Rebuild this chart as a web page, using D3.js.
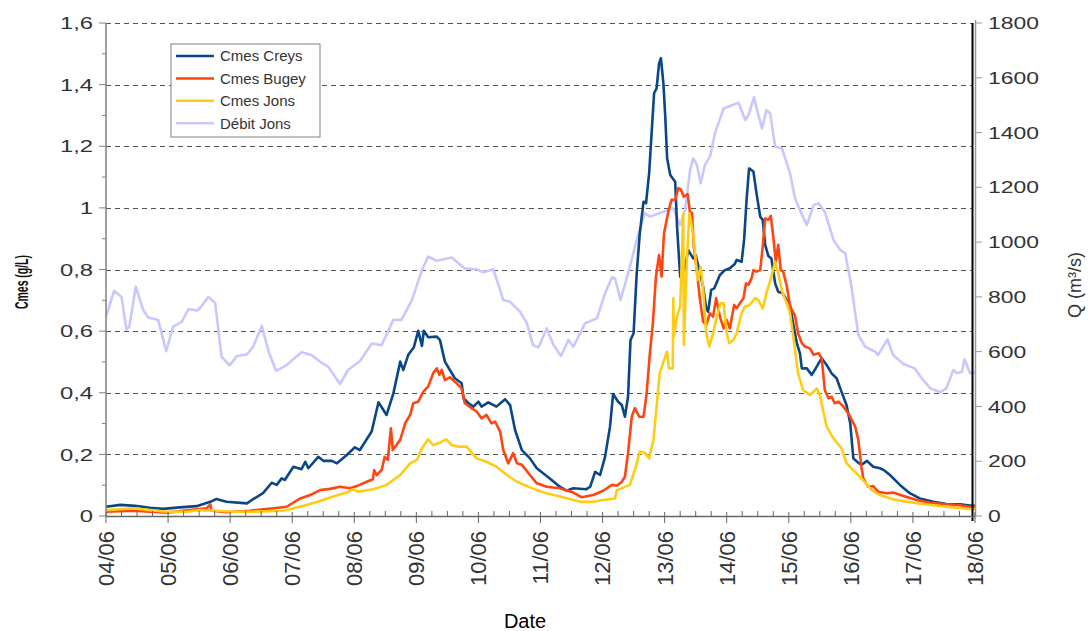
<!DOCTYPE html>
<html>
<head>
<meta charset="utf-8">
<script src="https://cdn.jsdelivr.net/npm/d3@7"></script>
<style>
  body { margin: 0; background: #fff; }
  svg { display: block; font-family: Arial, 'Liberation Sans', sans-serif; }
</style>
</head>
<body>
<svg id="chart" width="1088" height="631"></svg>
<script>
// time is in days since 04/06 00:00
const startDate = new Date(2008, 5, 4)
const endDate = new Date(2008, 5, 18)

const leftTicks = [0, 0.2, 0.4, 0.6, 0.8, 1, 1.2, 1.4, 1.6]
const rightTicks = [0, 200, 400, 600, 800, 1000, 1200, 1400, 1600, 1800]
const seriesNames = ['Cmes Creys', 'Cmes Bugey', 'Cmes Jons', 'Débit Jons']

// Q (m3/s)
const debitJons = [[0,728],[0.13,822],[0.25,800],[0.33,681],[0.375,691],[0.48,837],[0.6,752],[0.68,725],[0.84,716],[0.97,602],[1.08,691],[1.22,709],[1.33,756],[1.46,750],[1.51,758],[1.65,800],[1.76,777],[1.86,582],[1.99,550],[2.11,584],[2.27,590],[2.37,618],[2.51,694],[2.62,600],[2.74,530],[2.91,551],[3.15,598],[3.31,588],[3.45,563],[3.58,545],[3.77,482],[3.9,533],[4.09,565],[4.28,630],[4.44,624],[4.63,716],[4.76,716],[4.93,789],[5.09,898],[5.19,947],[5.33,932],[5.57,944],[5.78,904],[5.97,901],[6.08,890],[6.24,901],[6.4,789],[6.51,782],[6.67,746],[6.78,704],[6.88,624],[6.97,616],[7.1,685],[7.21,624],[7.33,584],[7.45,643],[7.53,618],[7.72,704],[7.91,722],[8.04,813],[8.15,871],[8.2,868],[8.29,789],[8.44,910],[8.55,1008],[8.68,1105],[8.76,1093],[8.98,1111],[9.14,1123],[9.25,1062],[9.33,1117],[9.41,1263],[9.46,1306],[9.52,1282],[9.58,1215],[9.65,1282],[9.73,1312],[9.81,1397],[9.95,1488],[10.05,1497],[10.19,1509],[10.3,1446],[10.35,1464],[10.44,1529],[10.51,1464],[10.57,1415],[10.64,1482],[10.7,1470],[10.78,1348],[10.89,1342],[11.02,1251],[11.1,1160],[11.18,1117],[11.29,1062],[11.4,1135],[11.48,1142],[11.58,1111],[11.72,1008],[11.83,971],[11.91,959],[12.01,837],[12.12,661],[12.23,618],[12.39,600],[12.44,588],[12.59,645],[12.68,588],[12.85,555],[13.03,539],[13.14,503],[13.28,466],[13.44,452],[13.54,466],[13.65,533],[13.71,521],[13.79,527],[13.83,572],[13.92,521],[14,525]]

// Cmes (g/L)
const cmesCreys = [[0,0.030],[0.23,0.036],[0.47,0.033],[0.71,0.027],[0.92,0.023],[1.19,0.028],[1.46,0.032],[1.68,0.046],[1.78,0.055],[1.94,0.046],[2.27,0.041],[2.35,0.052],[2.53,0.074],[2.67,0.108],[2.75,0.101],[2.83,0.122],[2.88,0.117],[3.02,0.160],[3.15,0.152],[3.21,0.176],[3.26,0.155],[3.42,0.192],[3.5,0.179],[3.64,0.179],[3.72,0.171],[3.88,0.198],[4.01,0.223],[4.09,0.214],[4.28,0.274],[4.39,0.369],[4.52,0.328],[4.63,0.398],[4.74,0.501],[4.79,0.474],[4.87,0.523],[4.96,0.548],[5.03,0.601],[5.09,0.552],[5.12,0.601],[5.19,0.580],[5.33,0.582],[5.38,0.571],[5.46,0.501],[5.62,0.447],[5.73,0.431],[5.76,0.382],[5.84,0.366],[5.92,0.355],[6.0,0.371],[6.05,0.355],[6.16,0.369],[6.29,0.355],[6.43,0.379],[6.51,0.360],[6.59,0.279],[6.70,0.214],[6.83,0.187],[6.94,0.155],[7.15,0.122],[7.31,0.095],[7.42,0.082],[7.53,0.090],[7.74,0.087],[7.8,0.095],[7.88,0.143],[7.96,0.133],[8.04,0.192],[8.12,0.290],[8.17,0.396],[8.25,0.371],[8.31,0.360],[8.36,0.322],[8.41,0.387],[8.45,0.571],[8.5,0.593],[8.55,0.788],[8.6,0.918],[8.66,1.020],[8.7,1.015],[8.75,1.112],[8.83,1.372],[8.87,1.388],[8.91,1.469],[8.94,1.486],[8.98,1.404],[9.01,1.296],[9.04,1.161],[9.09,1.107],[9.17,1.085],[9.2,0.939],[9.25,0.777],[9.33,0.809],[9.38,0.863],[9.46,0.836],[9.5,0.847],[9.57,0.788],[9.62,0.744],[9.67,0.674],[9.7,0.663],[9.75,0.734],[9.8,0.739],[9.89,0.782],[9.97,0.798],[10.05,0.804],[10.13,0.818],[10.16,0.831],[10.24,0.825],[10.28,0.896],[10.32,1.026],[10.36,1.128],[10.43,1.118],[10.48,1.047],[10.54,0.971],[10.58,0.961],[10.62,0.880],[10.67,0.844],[10.72,0.836],[10.78,0.755],[10.83,0.728],[10.9,0.723],[10.97,0.700],[11.01,0.693],[11.07,0.625],[11.13,0.561],[11.18,0.528],[11.21,0.479],[11.29,0.479],[11.37,0.458],[11.45,0.485],[11.53,0.512],[11.61,0.490],[11.69,0.463],[11.77,0.447],[11.85,0.403],[11.93,0.360],[11.99,0.301],[12.04,0.187],[12.12,0.173],[12.17,0.166],[12.26,0.179],[12.36,0.160],[12.47,0.155],[12.53,0.149],[12.63,0.133],[12.79,0.101],[12.95,0.074],[13.11,0.057],[13.33,0.046],[13.54,0.039],[13.76,0.038],[13.95,0.033],[14,0.033]]

const cmesBugey = [[0,0.014],[0.44,0.017],[0.98,0.011],[1.35,0.019],[1.62,0.025],[1.68,0.038],[1.70,0.017],[1.94,0.012],[2.32,0.017],[2.70,0.025],[2.91,0.030],[3.13,0.057],[3.29,0.068],[3.45,0.084],[3.61,0.088],[3.77,0.095],[3.93,0.090],[4.04,0.097],[4.2,0.111],[4.3,0.119],[4.32,0.149],[4.36,0.133],[4.44,0.149],[4.49,0.192],[4.54,0.182],[4.59,0.285],[4.62,0.214],[4.74,0.247],[4.82,0.301],[4.90,0.328],[4.95,0.366],[5.03,0.371],[5.11,0.403],[5.19,0.420],[5.27,0.463],[5.33,0.479],[5.37,0.458],[5.41,0.474],[5.46,0.441],[5.54,0.450],[5.62,0.436],[5.73,0.414],[5.78,0.366],[5.89,0.350],[5.97,0.339],[6.05,0.317],[6.13,0.328],[6.21,0.301],[6.27,0.306],[6.35,0.274],[6.40,0.214],[6.48,0.171],[6.56,0.204],[6.62,0.171],[6.70,0.166],[6.83,0.133],[6.94,0.106],[7.10,0.095],[7.31,0.090],[7.53,0.076],[7.66,0.061],[7.85,0.068],[8.01,0.082],[8.15,0.101],[8.23,0.098],[8.31,0.111],[8.36,0.128],[8.41,0.204],[8.47,0.322],[8.52,0.350],[8.59,0.322],[8.66,0.322],[8.71,0.398],[8.76,0.523],[8.81,0.625],[8.86,0.777],[8.91,0.847],[8.95,0.777],[8.99,0.918],[9.06,0.988],[9.11,1.026],[9.17,1.026],[9.22,1.064],[9.26,1.060],[9.31,1.036],[9.37,1.045],[9.41,0.982],[9.44,0.984],[9.47,0.874],[9.53,0.777],[9.57,0.701],[9.62,0.631],[9.67,0.620],[9.73,0.658],[9.78,0.647],[9.83,0.707],[9.89,0.647],[9.95,0.609],[10.0,0.636],[10.05,0.609],[10.12,0.685],[10.16,0.674],[10.21,0.690],[10.27,0.707],[10.31,0.755],[10.35,0.750],[10.40,0.771],[10.43,0.798],[10.48,0.793],[10.54,0.798],[10.58,0.874],[10.62,0.966],[10.67,0.961],[10.71,0.974],[10.75,0.907],[10.79,0.825],[10.83,0.880],[10.87,0.798],[10.91,0.793],[10.97,0.744],[11.02,0.680],[11.10,0.650],[11.15,0.593],[11.21,0.561],[11.26,0.550],[11.34,0.544],[11.40,0.523],[11.48,0.528],[11.53,0.512],[11.58,0.409],[11.64,0.382],[11.69,0.387],[11.74,0.366],[11.80,0.371],[11.88,0.355],[11.96,0.333],[12.07,0.290],[12.12,0.247],[12.17,0.160],[12.20,0.122],[12.28,0.095],[12.36,0.097],[12.44,0.079],[12.58,0.074],[12.68,0.076],[12.85,0.065],[13.06,0.052],[13.28,0.043],[13.54,0.038],[13.76,0.035],[13.95,0.028],[14,0.028]]

const cmesJons = [[0,0.019],[0.44,0.025],[0.71,0.019],[0.98,0.014],[1.30,0.014],[1.51,0.019],[1.78,0.017],[2.05,0.014],[2.37,0.014],[2.86,0.017],[3.02,0.025],[3.23,0.036],[3.45,0.049],[3.66,0.063],[3.88,0.076],[3.98,0.087],[4.06,0.079],[4.31,0.087],[4.52,0.101],[4.74,0.133],[4.90,0.171],[5.01,0.182],[5.09,0.220],[5.19,0.249],[5.27,0.230],[5.38,0.238],[5.48,0.249],[5.57,0.230],[5.68,0.225],[5.81,0.225],[5.97,0.187],[6.13,0.176],[6.29,0.160],[6.46,0.133],[6.62,0.111],[6.83,0.093],[7.05,0.076],[7.31,0.063],[7.64,0.046],[7.85,0.046],[8.01,0.052],[8.2,0.057],[8.23,0.084],[8.44,0.101],[8.52,0.149],[8.60,0.209],[8.68,0.205],[8.75,0.187],[8.82,0.247],[8.87,0.355],[8.92,0.463],[8.99,0.506],[9.04,0.533],[9.07,0.479],[9.13,0.479],[9.14,0.707],[9.15,0.582],[9.20,0.647],[9.25,0.680],[9.30,0.982],[9.31,0.555],[9.36,0.842],[9.40,0.982],[9.44,0.939],[9.47,0.896],[9.53,0.766],[9.58,0.809],[9.62,0.739],[9.67,0.593],[9.72,0.550],[9.78,0.593],[9.84,0.647],[9.90,0.690],[9.95,0.690],[10.0,0.593],[10.04,0.561],[10.11,0.571],[10.16,0.593],[10.24,0.658],[10.29,0.680],[10.37,0.685],[10.46,0.707],[10.51,0.701],[10.58,0.674],[10.64,0.723],[10.72,0.777],[10.78,0.825],[10.83,0.788],[10.90,0.723],[10.97,0.690],[11.02,0.658],[11.08,0.571],[11.15,0.463],[11.23,0.409],[11.34,0.393],[11.40,0.403],[11.45,0.414],[11.50,0.393],[11.61,0.290],[11.72,0.252],[11.85,0.220],[11.93,0.171],[12.04,0.149],[12.17,0.122],[12.34,0.084],[12.47,0.068],[12.68,0.054],[13.01,0.043],[13.33,0.035],[13.65,0.028],[13.95,0.022],[14,0.022]]

const colors = ['#0b4787', '#ff4512', '#ffcc14', '#c8c8ff']

const svg = d3.select('#chart')
const L = 106, R = 975, T = 23, B = 516

const toDate = d => new Date(+startDate + d * 864e5)
const x = d3.scaleTime().domain([startDate, endDate]).range([L, R])
const y = d3.scaleLinear().domain([0, 1.6]).range([B, T])
const yQ = d3.scaleLinear().domain([0, 1800]).range([B, T])
const fr = d3.formatLocale({ decimal: ',', thousands: ' ', grouping: [3], currency: ['', ''] })
const fmtC = fr.format('~g')

// grid
svg.append('g').selectAll('line').data(leftTicks.filter(v => v > 0)).join('line')
  .attr('x1', L).attr('x2', R - 2)
  .attr('y1', d => Math.round(y(d)) + 0.5).attr('y2', d => Math.round(y(d)) + 0.5)
  .attr('stroke', '#555').attr('stroke-width', 1).attr('stroke-dasharray', '5,4')

// lines
const lineC = d3.line().x(d => x(toDate(d[0]))).y(d => y(d[1]))
const lineQ = d3.line().x(d => x(toDate(d[0]))).y(d => yQ(d[1]))
const gLines = svg.append('g')
gLines.append('path').datum(debitJons).attr('d', lineQ).attr('fill', 'none').attr('stroke', colors[3]).attr('stroke-width', 2.6).attr('stroke-linejoin', 'round')
;[cmesCreys, cmesBugey, cmesJons].forEach((s, i) => {
  gLines.append('path').datum(s).attr('d', lineC).attr('fill', 'none')
    .attr('stroke', colors[i]).attr('stroke-width', 2.6).attr('stroke-linejoin', 'round')
})

// left axis
const gL = svg.append('g')
gL.append('line').attr('x1', L).attr('x2', L).attr('y1', T).attr('y2', B).attr('stroke', '#808080').attr('stroke-width', 1.5)
gL.selectAll('line.mj').data(leftTicks).join('line').attr('class', 'mj')
  .attr('x1', L - 7).attr('x2', L).attr('y1', d => y(d)).attr('y2', d => y(d)).attr('stroke', '#808080')
gL.selectAll('line.mn').data(d3.range(1, 16, 2).map(v => v / 10)).join('line').attr('class', 'mn')
  .attr('x1', L - 4).attr('x2', L).attr('y1', d => y(d)).attr('y2', d => y(d)).attr('stroke', '#808080')
gL.selectAll('text').data(leftTicks).join('text')
  .attr('transform', d => `translate(93,${y(d)}) scale(1.4,1)`)
  .attr('dy', '0.36em').attr('text-anchor', 'end').attr('font-size', 17).attr('fill', '#333')
  .text(d => fmtC(d))

// right axis
const gR = svg.append('g')
gR.append('line').attr('x1', R - 2.5).attr('x2', R - 2.5).attr('y1', T).attr('y2', B + 5).attr('stroke', '#000').attr('stroke-width', 2)
gR.append('line').attr('x1', R + 0.5).attr('x2', R + 0.5).attr('y1', T - 3).attr('y2', B).attr('stroke', '#999').attr('stroke-width', 1.5)
gR.selectAll('line.mj').data(rightTicks).join('line').attr('class', 'mj')
  .attr('x1', R).attr('x2', R + 7).attr('y1', d => yQ(d)).attr('y2', d => yQ(d)).attr('stroke', '#999')
gR.selectAll('text').data(rightTicks).join('text')
  .attr('transform', d => `translate(988,${yQ(d)}) scale(1.35,1)`)
  .attr('dy', '0.36em').attr('font-size', 17).attr('fill', '#333')
  .text(d => d)

// bottom axis
const days = d3.timeDay.range(startDate, d3.timeDay.offset(endDate, 1))
const quarters = d3.timeHour.every(6).range(startDate, endDate).filter(d => d.getHours() !== 0)
const gB = svg.append('g')
gB.append('line').attr('x1', L).attr('x2', R).attr('y1', B + 0.5).attr('y2', B + 0.5).attr('stroke', '#666').attr('stroke-width', 1.5)
gB.selectAll('line.mj').data(days).join('line').attr('class', 'mj')
  .attr('x1', d => x(d)).attr('x2', d => x(d)).attr('y1', B - 4).attr('y2', B + 7).attr('stroke', '#666')
gB.selectAll('line.mn').data(quarters).join('line').attr('class', 'mn')
  .attr('x1', d => x(d)).attr('x2', d => x(d)).attr('y1', B - 5).attr('y2', B).attr('stroke', '#666')
gB.selectAll('text').data(days).join('text')
  .attr('transform', d => `translate(${x(d)},531) rotate(-90)`)
  .attr('dy', '0.36em').attr('text-anchor', 'end').attr('font-size', 22).attr('fill', '#333')
  .text(d3.timeFormat('%d/%m'))

// axis titles
svg.append('text').attr('x', 525).attr('y', 628).attr('text-anchor', 'middle')
  .attr('font-size', 20).attr('fill', '#000').text('Date')
svg.append('text').attr('transform', 'translate(22,282) rotate(-90) scale(0.58,1)')
  .attr('dy', '0.35em').attr('text-anchor', 'middle').attr('font-size', 18).attr('font-weight', 'bold')
  .attr('fill', '#111').text('Cmes (g/L)')
svg.append('text').attr('transform', 'translate(1075,285) rotate(-90)')
  .attr('dy', '0.35em').attr('text-anchor', 'middle').attr('font-size', 18).attr('fill', '#333')
  .text('Q (m³/s)')

// legend
const lg = svg.append('g').attr('transform', 'translate(171,44)')
lg.append('rect').attr('width', 149).attr('height', 93).attr('fill', '#fff').attr('stroke', '#808080')
seriesNames.forEach((n, i) => {
  const yy = 12 + i * 22.4
  lg.append('line').attr('x1', 5).attr('x2', 43).attr('y1', yy).attr('y2', yy)
    .attr('stroke', colors[i]).attr('stroke-width', 2.5)
  lg.append('text').attr('x', 49).attr('y', yy).attr('dy', '0.36em')
    .attr('font-size', 15).attr('fill', '#333').text(n)
})
</script>
</body>
</html>
